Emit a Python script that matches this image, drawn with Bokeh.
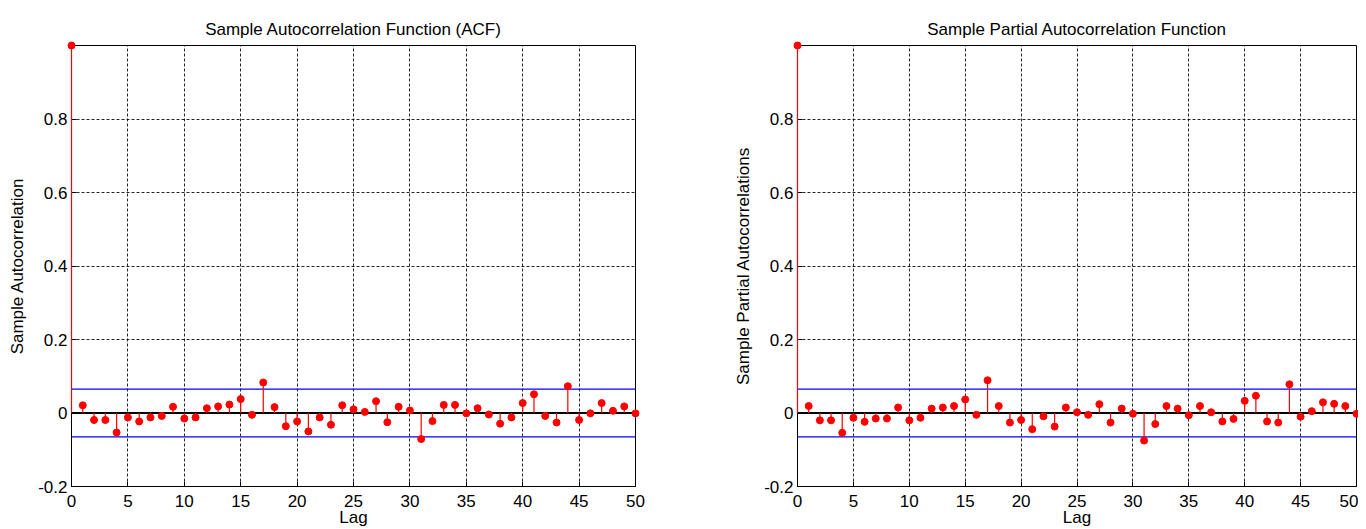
from bokeh.plotting import figure
from bokeh.layouts import row
from bokeh.models import Range1d, FixedTicker, Span
from bokeh.embed import file_html
from bokeh.resources import INLINE

lags = list(range(0, 51))
acf = [1.0, 0.021, -0.019, -0.019, -0.053, -0.012, -0.023, -0.012, -0.008, 0.017, -0.015,
       -0.012, 0.013, 0.018, 0.023, 0.038, -0.005, 0.083, 0.016, -0.036, -0.023,
       -0.050, -0.012, -0.032, 0.021, 0.010, 0.003, 0.032, -0.025, 0.017, 0.007,
       -0.071, -0.022, 0.022, 0.022, -0.001, 0.013, -0.004, -0.029, -0.012, 0.027,
       0.051, -0.008, -0.026, 0.073, -0.019, -0.001, 0.027, 0.006, 0.018, -0.001]
pacf = [1.0, 0.019, -0.020, -0.020, -0.054, -0.013, -0.024, -0.015, -0.015, 0.015, -0.020,
        -0.013, 0.012, 0.015, 0.019, 0.037, -0.005, 0.089, 0.019, -0.026, -0.019,
        -0.044, -0.009, -0.037, 0.015, 0.002, -0.005, 0.024, -0.026, 0.012, -0.002,
        -0.075, -0.030, 0.019, 0.012, -0.006, 0.019, 0.002, -0.023, -0.016, 0.033,
        0.047, -0.023, -0.026, 0.078, -0.010, 0.005, 0.029, 0.025, 0.019, -0.002]
bound = 0.065
x_ticks = [0, 5, 10, 15, 20, 25, 30, 35, 40, 45, 50]
y_ticks = [-0.2, 0, 0.2, 0.4, 0.6, 0.8]
y_tick_labels = {-0.2: "-0.2", 0: "0", 0.2: "0.2", 0.4: "0.4", 0.6: "0.6", 0.8: "0.8"}

FONT = "Liberation Sans"


def make(title, ylabel, vals, w, h, bl, br, bt, bb, ystand):
    p = figure(width=w, height=h, min_border_left=bl, min_border_right=br,
               min_border_top=bt, min_border_bottom=bb, output_backend="svg",
               toolbar_location=None, x_range=Range1d(0, 50), y_range=Range1d(-0.2, 1.0),
               title=title)
    p.title.align = "center"
    p.title.text_font = FONT
    p.title.text_font_size = "17px"
    p.title.text_font_style = "normal"
    p.title.text_color = "black"
    p.title.standoff = 14
    p.outline_line_color = "black"
    p.outline_line_width = 1
    p.outline_line_alpha = 1
    p.background_fill_color = "white"
    p.border_fill_color = "white"

    p.xaxis.ticker = FixedTicker(ticks=x_ticks)
    p.yaxis.ticker = FixedTicker(ticks=y_ticks)
    p.yaxis.major_label_overrides = y_tick_labels
    p.xaxis.axis_label = "Lag"
    p.yaxis.axis_label = ylabel
    for ax in (p.xaxis[0], p.yaxis[0]):
        ax.axis_label_text_font = FONT
        ax.axis_label_text_font_size = "17px"
        ax.axis_label_text_font_style = "normal"
        ax.axis_label_text_color = "black"
        ax.major_label_text_font = FONT
        ax.major_label_text_font_size = "17px"
        ax.major_label_text_color = "black"
        ax.minor_tick_line_color = None
        ax.major_tick_in = 5
        ax.major_tick_out = 0
        ax.major_tick_line_color = "black"
        ax.axis_line_color = "black"
    p.xaxis.major_label_standoff = 8
    p.xaxis.axis_label_standoff = -2
    p.yaxis.major_label_standoff = 4
    p.yaxis.axis_label_standoff = ystand

    for g in (p.xgrid[0], p.ygrid[0]):
        g.grid_line_color = "black"
        g.grid_line_dash = "3 2"
        g.grid_line_width = 1
        g.grid_line_alpha = 0.85

    p.add_layout(Span(location=bound, dimension="width", line_color="#0000ff", line_width=1.2))
    p.add_layout(Span(location=-bound, dimension="width", line_color="#0000ff", line_width=1.2))
    p.add_layout(Span(location=0, dimension="width", line_color="black", line_width=1.8))

    p.segment(x0=lags, y0=[0] * len(lags), x1=lags, y1=vals, line_color="red",
              line_width=1.2, level="overlay")
    p.scatter(x=lags, y=vals, size=7, fill_color="red", line_color="red", level="overlay")
    return p


p1 = make("Sample Autocorrelation Function (ACF)", "Sample Autocorrelation", acf,
          690, 529, 71, 55, 45, 43, 8)
p2 = make("Sample Partial Autocorrelation Function", "Sample Partial Autocorrelations", pacf,
          668, 529, 107, 2, 45, 43, 8)

layout = row(p1, p2)
open("out.html", "w").write(file_html(layout, INLINE))
